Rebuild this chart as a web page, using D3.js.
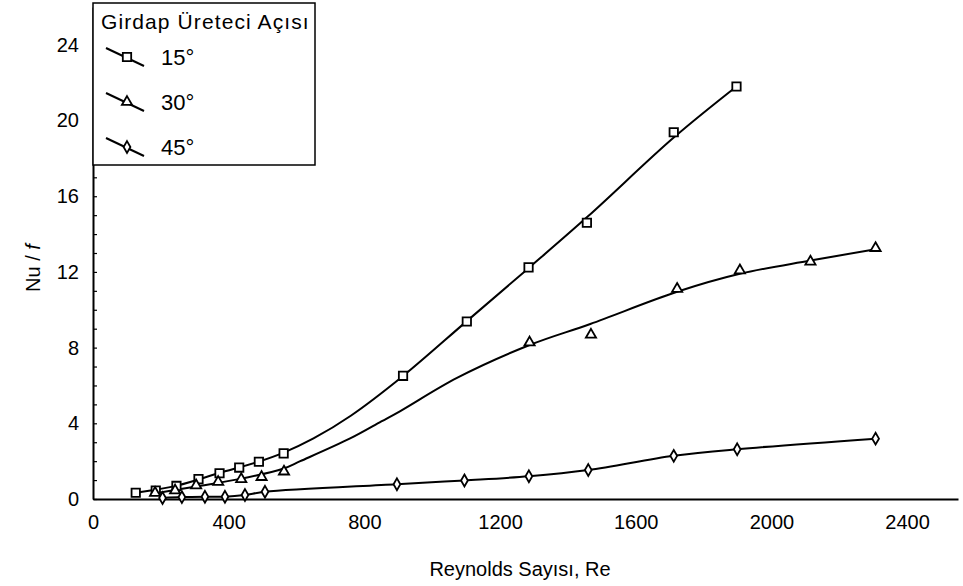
<!DOCTYPE html>
<html>
<head>
<meta charset="utf-8">
<script src="https://cdn.jsdelivr.net/npm/d3@7"></script>
<style>
  body { margin: 0; background: #fff; }
  text { font-family: "Liberation Sans", Arial, sans-serif; fill: #000; }
</style>
</head>
<body>
<svg class="nu-chart" width="963" height="586"></svg>
<script>
// measured points, 15 degrees (squares)
const re15 = [126, 185, 246, 311, 373, 431, 489, 562, 914, 1102, 1284, 1456, 1712, 1897];
const nu15 = [0.33, 0.45, 0.69, 1.05, 1.36, 1.66, 1.97, 2.41, 6.51, 9.38, 12.24, 14.6, 19.38, 21.8];

// fitted curve for 15 degrees
const fitRe15 = [126, 250, 370, 490, 562, 650, 760, 914, 1102, 1284, 1460, 1712, 1897];
const fitNu15 = [0.33, 0.72, 1.36, 1.98, 2.45, 3.2, 4.4, 6.5, 9.4, 12.2, 14.95, 19.1, 21.8];

// measured points, 30 degrees (triangles)
const re30 = [183, 242, 304, 369, 437, 497, 563, 1287, 1468, 1722, 1907, 2115, 2307];
const nu30 = [0.32, 0.45, 0.72, 0.9, 1.05, 1.16, 1.45, 8.27, 8.68, 11.1, 12.08, 12.54, 13.26];

// fitted curve for 30 degrees
const fitRe30 = [185, 300, 430, 560, 611, 758, 850, 906, 1073, 1289, 1466, 1722, 1907, 2115, 2307];
const fitNu30 = [0.3, 0.65, 1.05, 1.6, 2.0, 3.2, 4.1, 4.65, 6.4, 8.15, 9.25, 10.95, 11.9, 12.6, 13.2];

// measured points, 45 degrees (diamonds)
const re45 = [205, 262, 330, 389, 448, 507, 896, 1095, 1285, 1460, 1712, 1899, 2307];
const nu45 = [0.05, 0.1, 0.12, 0.12, 0.21, 0.38, 0.78, 0.98, 1.2, 1.53, 2.28, 2.63, 3.19];

const xTicks = [0, 400, 800, 1200, 1600, 2000, 2400];
const yTicks = [0, 4, 8, 12, 16, 20, 24];
const legendTitle = "Girdap Üreteci Açısı";
const seriesLabels = ["15°", "30°", "45°"];

const $svg = d3.select(".nu-chart");
const x0 = 93, x1 = 958, y0 = 499, y1 = 7;

const xScale = d3.scaleLinear().domain([0, 2550]).range([x0, x1]);
const yScale = d3.scaleLinear().domain([0, 26]).range([y0, y1]);

const pts = (xs, ys) => xs.map((r, i) => [r, ys[i]]);
const data15 = pts(re15, nu15);
const data30 = pts(re30, nu30);
const data45 = pts(re45, nu45);
const fit15 = pts(fitRe15, fitNu15);
const fit30 = pts(fitRe30, fitNu30);

// axes
const yAxis = d3.axisLeft(yScale).tickValues(yTicks).tickSize(0).tickPadding(14).tickFormat(d3.format("d"));
const $yAxis = $svg.append("g").attr("transform", `translate(${x0},0)`).call(yAxis);
$yAxis.selectAll("text").attr("font-size", 20).attr("font-family", "Liberation Sans, Arial, sans-serif");

const yMinor = d3.axisRight(yScale).ticks(26).tickSize(4).tickFormat("");
const $yMinor = $svg.append("g").attr("transform", `translate(${x0},0)`).call(yMinor);
$yMinor.select(".domain").remove();
$yMinor.selectAll("line").attr("stroke-width", 1.2);

const xAxis = d3.axisBottom(xScale).tickValues(xTicks).tickSize(0).tickPadding(16).tickFormat(d3.format("d"));
const $xAxis = $svg.append("g").attr("transform", `translate(0,${y0})`).call(xAxis);
$xAxis.selectAll("text").attr("font-size", 20).attr("font-family", "Liberation Sans, Arial, sans-serif");

$svg.selectAll(".domain").attr("stroke-width", 2);

$svg.append("text")
  .attr("x", 520).attr("y", 576)
  .attr("text-anchor", "middle")
  .attr("font-size", 20)
  .text("Reynolds Sayısı, Re");

const $ylab = $svg.append("text")
  .attr("transform", "translate(40,268) rotate(-90)")
  .attr("text-anchor", "middle")
  .attr("font-size", 20);
$ylab.append("tspan").text("Nu / ");
$ylab.append("tspan").attr("font-style", "italic").text("f");

// curves
const curve = d3.line()
  .x((d) => xScale(d[0]))
  .y((d) => yScale(d[1]))
  .curve(d3.curveCatmullRom.alpha(0.5));

[fit15, fit30, data45].forEach((d) => {
  $svg.append("path")
    .attr("d", curve(d))
    .attr("fill", "none")
    .attr("stroke", "#000")
    .attr("stroke-width", 2);
});

// markers
const symbols = [
  { type: d3.symbolSquare, size: 70 },
  { type: d3.symbolTriangle, size: 45 },
  { type: d3.symbolDiamond, size: 40 },
];

[data15, data30, data45].forEach((d, k) => {
  $svg.append("g")
    .selectAll("path")
    .data(d)
    .enter()
    .append("path")
    .attr("transform", (p) => `translate(${xScale(p[0])},${yScale(p[1])})`)
    .attr("d", d3.symbol().type(symbols[k].type).size(symbols[k].size))
    .attr("fill", "#fff")
    .attr("stroke", "#000")
    .attr("stroke-width", 1.8);
});

// legend
const $legend = $svg.append("g").attr("transform", "translate(93,3)");
$legend.append("rect")
  .attr("width", 222).attr("height", 162)
  .attr("fill", "#fff")
  .attr("stroke", "#000")
  .attr("stroke-width", 1.5);
$legend.append("text")
  .attr("x", 8).attr("y", 26)
  .attr("font-size", 21)
  .attr("letter-spacing", 1.1)
  .text(legendTitle);

seriesLabels.forEach((label, i) => {
  const cy = 54 + i * 45;
  const $item = $legend.append("g").attr("transform", `translate(0,${cy})`);
  $item.append("line")
    .attr("x1", 13).attr("y1", -9)
    .attr("x2", 51).attr("y2", 9)
    .attr("stroke", "#000").attr("stroke-width", 2);
  $item.append("path")
    .attr("transform", "translate(34,0)")
    .attr("d", d3.symbol().type(symbols[i].type).size(symbols[i].size))
    .attr("fill", "#fff")
    .attr("stroke", "#000")
    .attr("stroke-width", 1.8);
  $item.append("text")
    .attr("x", 68).attr("y", 8)
    .attr("font-size", 22)
    .text(label);
});
</script>
</body>
</html>
